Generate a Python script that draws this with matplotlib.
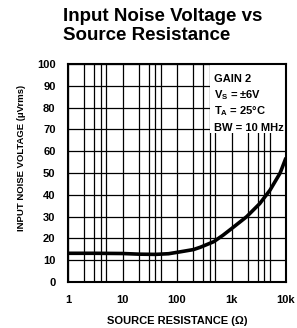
import matplotlib
matplotlib.use("Agg")
import matplotlib.pyplot as plt
from matplotlib.patches import Rectangle

# data
resistance = [1, 3, 10, 20, 40, 70, 110, 200, 270, 470, 700, 1000, 1900, 3300, 5100, 7800, 10000]
noise = [13.2, 13.2, 13.1, 12.8, 12.7, 13.0, 13.8, 14.9, 16.0, 18.5, 21.5, 24.5, 30.0, 36.0, 42.2, 50.0, 57.0]

x_ticks = [1, 10, 100, 1000, 10000]
x_labels = ["1", "10", "100", "1k", "10k"]
y_ticks = list(range(0, 101, 10))

notes = ["GAIN 2", "V$_\\mathregular{S}$ = \u00b16V", "T$_\\mathregular{A}$ = 25\u00b0C", "BW = 10 MHz"]

plt.rcParams["font.family"] = ["Liberation Sans Narrow", "Liberation Sans", "DejaVu Sans"]

fig = plt.figure(figsize=(2.97, 3.28), dpi=100)
ax = fig.add_axes([0.229, 0.140, 0.734, 0.665])

ax.set_xscale("log")
ax.set_xlim(1, 10000)
ax.set_ylim(0, 100)

# grid: decades plus 2,3,4,5 of each decade
minor = [m * 10 ** d for d in range(4) for m in (2, 3, 4, 5)]
for v in minor + x_ticks:
    ax.axvline(v, color="black", lw=0.9, zorder=1)
for v in y_ticks:
    ax.axhline(v, color="black", lw=0.9, zorder=1)

# white box holding the conditions
ax.add_patch(Rectangle((400, 68.5), 10000 - 400, 31.5, facecolor="white",
                       edgecolor="none", zorder=2))
for i, t in enumerate(notes):
    ax.text(470, 93 - i * 7.4, t, fontsize=8, fontweight="bold", va="center",
            ha="left", zorder=3)

ax.plot(resistance, noise, color="black", lw=2.6, zorder=4,
        solid_joinstyle="round", solid_capstyle="butt")

ax.set_xticks(x_ticks)
ax.set_xticklabels(x_labels)
ax.set_xticks([], minor=True)
ax.set_yticks(y_ticks)
ax.tick_params(length=0, labelsize=8, pad=9)
for lab in ax.get_xticklabels() + ax.get_yticklabels():
    lab.set_fontweight("bold")
for s in ax.spines.values():
    s.set_linewidth(1.5)
    s.set_zorder(5)

ax.set_xlabel("SOURCE RESISTANCE (\u03a9)", fontsize=8, fontweight="bold", labelpad=8)
ax.set_ylabel("INPUT NOISE VOLTAGE (\u03bcVrms)", fontsize=6.8, fontweight="bold")
ax.yaxis.set_label_coords(-0.195, 0.57)

fig.text(0.212, 0.975, "Input Noise Voltage vs\nSource Resistance", fontsize=13.5,
         fontweight="bold", family=["Liberation Sans", "DejaVu Sans"],
         va="top", ha="left", linespacing=1.1)

fig.savefig("out.png", dpi=100)
